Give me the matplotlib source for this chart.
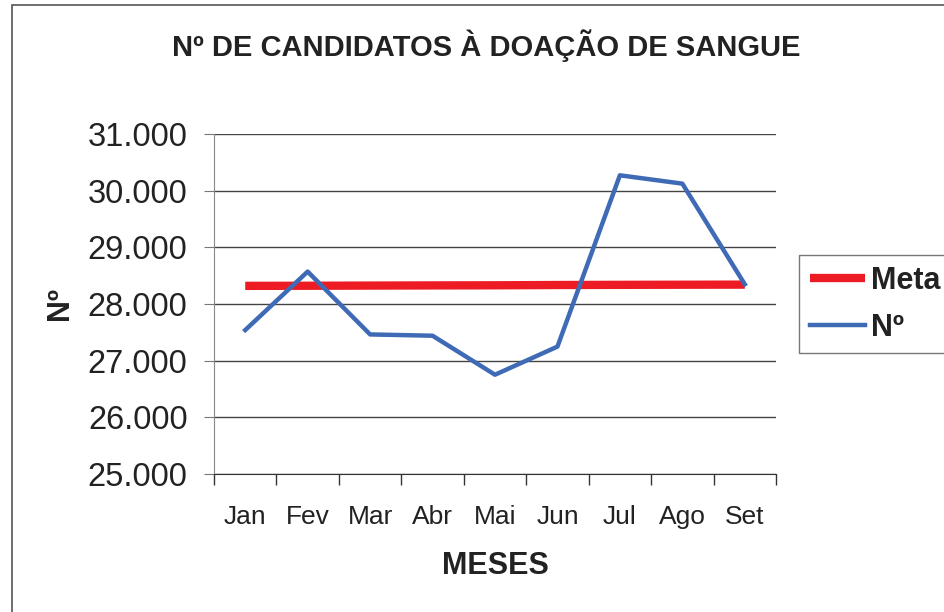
import matplotlib
matplotlib.use('Agg')
import matplotlib.pyplot as plt
from matplotlib.patches import Rectangle
from matplotlib.ticker import FuncFormatter

months = ['Jan', 'Fev', 'Mar', 'Abr', 'Mai', 'Jun', 'Jul', 'Ago', 'Set']
meta = [28320, 28322, 28325, 28328, 28330, 28335, 28338, 28340, 28342]
candidatos = [27540, 28572, 27463, 27440, 26752, 27248, 30271, 30124, 28348]
y_ticks = [25000, 26000, 27000, 28000, 29000, 30000, 31000]

plt.rcParams['font.family'] = ['Liberation Sans', 'DejaVu Sans']

fig = plt.figure(figsize=(9.44, 6.12), dpi=100)
ax = fig.add_axes([214 / 944, 1 - 474 / 612, 562 / 944, 340 / 612])

x = list(range(len(months)))
ax.plot(x, meta, color='#ED1C24', lw=6, label='Meta', solid_capstyle='butt', zorder=3)
ax.plot(x, candidatos, color='#3F6AB5', lw=3.2, label='Nº', zorder=4)

ax.set_xlim(-0.5, len(months) - 0.5)
ax.set_ylim(25000, 31000)
ax.set_yticks(y_ticks)
ax.yaxis.set_major_formatter(FuncFormatter(lambda v, p: f'{int(v):,}'.replace(',', '.')))
ax.set_xticks([i - 0.5 for i in range(len(months) + 1)])
ax.set_xticklabels([])
ax.set_xticks(x, minor=True)
ax.set_xticklabels(months, minor=True, fontsize=19, color='#222222')
ax.tick_params(axis='x', which='minor', length=0, pad=22)
ax.tick_params(axis='x', which='major', length=8, color='#333333', width=1)
ax.tick_params(axis='y', length=7, color='#777777', labelsize=23.5, labelcolor='#222222', pad=12)

ax.grid(axis='y', color='#444444', lw=1)
ax.set_axisbelow(True)
for s in ['top', 'right']:
    ax.spines[s].set_visible(False)
ax.spines['left'].set_color('#888888')
ax.spines['bottom'].set_color('#333333')

ax.set_xlabel('MESES', fontsize=22, fontweight='bold', color='#222222')
ax.set_ylabel('Nº', fontsize=22, fontweight='bold', color='#222222')
ax.xaxis.set_label_coords(0.5, (474 - 566) / 340, transform=ax.transAxes)
ax.xaxis.label.set_va('center')
ax.yaxis.set_label_coords((60 - 214) / 562, 0.5, transform=ax.transAxes)
ax.yaxis.label.set_va('center')
fig.text(486 / 944, 1 - 46 / 612, 'Nº DE CANDIDATOS À DOAÇÃO DE SANGUE',
         ha='center', va='center', fontsize=21, fontweight='bold', color='#222222')

leg = fig.legend(loc='upper left', bbox_to_anchor=(799 / 944, 1 - 255 / 612),
                 prop={'weight': 'bold', 'size': 22}, borderaxespad=0,
                 frameon=True, fancybox=False, handlelength=1.8, handletextpad=0.2,
                 borderpad=0.35, labelspacing=0.55)
leg.get_frame().set_edgecolor('#555555')
leg.get_frame().set_linewidth(1)
for t in leg.get_texts():
    t.set_color('#222222')

fig.patches.append(Rectangle((12 / 944, -0.05), 1.0, 1.05 - 5 / 612, transform=fig.transFigure,
                             fill=False, edgecolor='#555555', lw=1.2))

fig.savefig('out.png', dpi=100)
